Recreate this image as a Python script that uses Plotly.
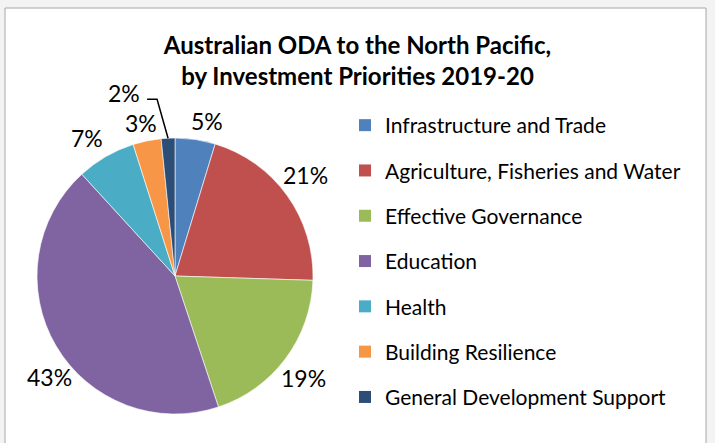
import math
import plotly.graph_objects as go

categories = ["Infrastructure and Trade", "Agriculture, Fisheries and Water",
              "Effective Governance", "Education", "Health",
              "Building Resilience", "General Development Support"]
shares = [4.7, 20.8, 19.4, 43.3, 6.9, 3.3, 1.6]
colors = ["#4F81BD", "#C0504D", "#9BBB59", "#8064A2", "#4BACC6", "#F79646", "#2C4D75"]

# label styling: extra pixel nudges (best-fit placement) and leader-line label
label_nudge = [(9, -1), (-5, -4), (-6, 2), (19, 16), (-8, 0), (-2, 0), None]
leader_idx = 6
leader_elbow = (-11, -39)
leader_end = (-21, -39)
leader_text = (-44, -45)

W, H = 715, 443
cx, cy, r = 175, 276, 138

fig = go.Figure()
fig.add_trace(go.Pie(
    labels=categories, values=shares, sort=False, direction="clockwise", rotation=0,
    marker=dict(colors=colors, line=dict(color="white", width=0.6)),
    textinfo="none", textposition="none",
    showlegend=False, hoverinfo="label+percent",
    domain=dict(x=[(cx - r) / W, (cx + r) / W], y=[(H - cy - r) / H, (H - cy + r) / H]),
))
for i, (name, col) in enumerate(zip(categories, colors)):
    fig.add_trace(go.Scatter(
        x=[None], y=[None], mode="markers", name=name, legendgroup=f"g{i}",
        marker=dict(symbol="square", size=12, color=col), showlegend=True,
    ))


def px2paper(x, y):
    return x / W, 1 - y / H


total = sum(shares)
cum = 0.0
lab_font = dict(family="Lato", size=23, color="#000000")
for i, v in enumerate(shares):
    mid = (cum + v / 2) / total * 2 * math.pi
    cum += v
    txt = f"{round(v / total * 100)}%"
    s, c = math.sin(mid), math.cos(mid)
    if i == leader_idx:
        px, py = cx + r * s, cy - r * c
        pts = [(px, py), (px + leader_elbow[0], py + leader_elbow[1]),
               (px + leader_end[0], py + leader_end[1])]
        path = "M " + " L ".join(f"{a / W:.5f},{1 - b / H:.5f}" for a, b in pts)
        fig.add_shape(type="path", path=path, xref="paper", yref="paper",
                      line=dict(color="#000000", width=1.5))
        tx, ty = px2paper(px + leader_text[0], py + leader_text[1])
    else:
        hw = 8 * len(txt) - 2
        d = r + 5 + hw * abs(s) + 11 * abs(c)
        nx, ny = label_nudge[i]
        tx, ty = px2paper(cx + d * s + nx, cy - d * c + ny)
    fig.add_annotation(x=tx, y=ty, xref="paper", yref="paper", text=txt,
                       showarrow=False, font=lab_font, xanchor="center", yanchor="middle")

fig.add_shape(type="rect", xref="paper", yref="paper", x0=5 / W, x1=706 / W,
              y0=-0.05, y1=1 - 8 / H, fillcolor="white",
              line=dict(color="#a6a6a6", width=1), layer="below")

fig.update_layout(
    width=W, height=H, margin=dict(l=0, r=0, t=0, b=0),
    paper_bgcolor="#f3f3f3", plot_bgcolor="rgba(0,0,0,0)",
    title=dict(text="<b>Australian ODA to the North Pacific,<br>by Investment Priorities 2019-20</b>",
               x=0.5, xanchor="center", y=1 - 54 / H, yanchor="top",
               font=dict(family="Lato", size=24, color="#000000")),
    xaxis=dict(visible=False), yaxis=dict(visible=False),
    legend=dict(x=345 / W, y=1 - 105 / H, xanchor="left", yanchor="top",
                traceorder="grouped", tracegroupgap=15,
                font=dict(family="Lato", size=21, color="#000000"),
                bgcolor="rgba(0,0,0,0)"),
)
fig.write_html("out.html", config={"displayModeBar": False},
               post_script="document.body.style.margin='0px';")
